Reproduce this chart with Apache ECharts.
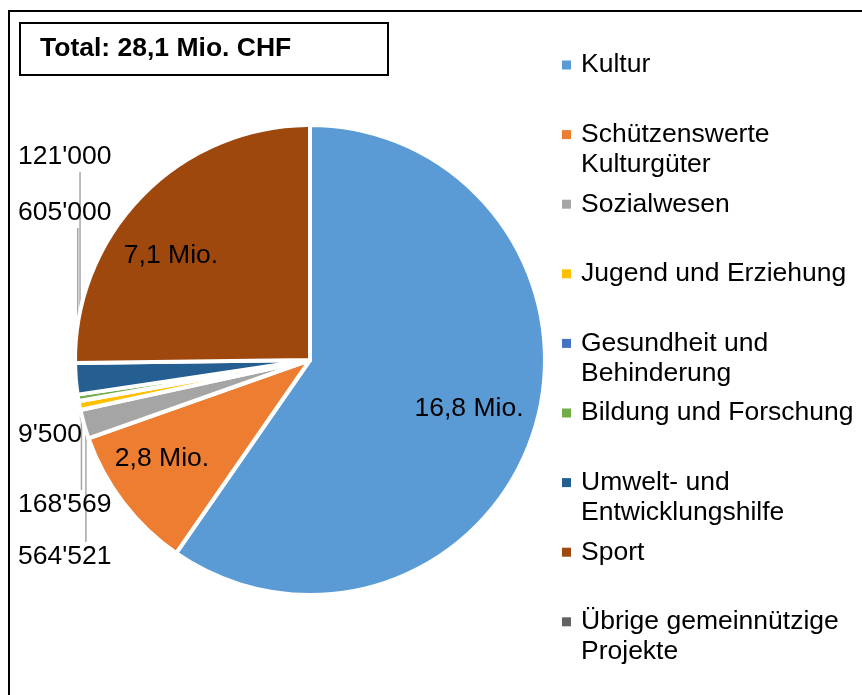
<!DOCTYPE html>
<html>
<head>
<meta charset="utf-8">
<title>Total: 28,1 Mio. CHF</title>
<script src="https://cdn.jsdelivr.net/npm/echarts@6/dist/echarts.min.js"></script>
<style>
  html, body { margin: 0; padding: 0; background: #fff; }
  #chart { width: 862px; height: 695px; }
</style>
</head>
<body>
<div id="chart"></div>
<script>
// Beiträge nach Bereich (CHF)
const categories = [
  'Kultur',
  'Schützenswerte Kulturgüter',
  'Sozialwesen',
  'Jugend und Erziehung',
  'Gesundheit und Behinderung',
  'Bildung und Forschung',
  'Umwelt- und Entwicklungshilfe',
  'Sport',
  'Übrige gemeinnützige Projekte'
]
const values = [16800000, 2800000, 564521, 168569, 9500, 121000, 605000, 7100000, 0]
const legendLines = [
  ['Kultur'],
  ['Schützenswerte', 'Kulturgüter'],
  ['Sozialwesen'],
  ['Jugend und Erziehung'],
  ['Gesundheit und', 'Behinderung'],
  ['Bildung und Forschung'],
  ['Umwelt- und', 'Entwicklungshilfe'],
  ['Sport'],
  ['Übrige gemeinnützige', 'Projekte']
]
const colors = ['#5B9BD5', '#ED7D31', '#A5A5A5', '#FFC000', '#4472C4', '#70AD47', '#255E91', '#9E480E', '#636363']
const totalLabel = 'Total: 28,1 Mio. CHF'

const FONT = '"Liberation Sans", Arial, sans-serif'
const FS = 26.5
const CX = 310, CY = 360, R = 235

// label placement (layout only): [x, y, align, inside]
const labelPos = [
  [469, 409, 'center', true],
  [162, 459, 'center', true],
  [18, 557, 'left', false],
  [18, 505, 'left', false],
  [18, 435, 'left', false],
  [18, 157, 'left', false],
  [18, 213, 'left', false],
  [171, 256, 'center', true],
  null
]

const formatValue = (v) => {
  if (v >= 1000000) return (v / 1000000).toFixed(1).replace('.', ',') + ' Mio.'
  return String(v).replace(/\B(?=(\d{3})+(?!\d))/g, "'")
}

const total = values.reduce((a, b) => a + b, 0)
const arcPoint = (idx) => {
  let before = 0
  for (let i = 0; i < idx; i++) before += values[i]
  const a = (90 - (before + values[idx] / 2) / total * 360) * Math.PI / 180
  return [CX + (R - 2) * Math.cos(a), CY - (R - 2) * Math.sin(a)]
}

const legendTop = (i) => {
  const c = 65 + 69.6 * i
  return legendLines[i].length > 1 ? c - 45 : c - 15
}

const legends = categories.map((name, i) => ({
  data: [name],
  left: 562,
  top: legendTop(i),
  orient: 'vertical',
  padding: 0,
  itemWidth: 9,
  itemHeight: 9,
  icon: 'rect',
  itemStyle: { borderWidth: 0 },
  selectedMode: false,
  formatter: () => {
    const lines = legendLines[i].map(l => '{t|' + l + '}')
    if (lines.length > 1) lines.unshift('{t| }')
    return lines.join('\n')
  },
  textStyle: {
    fontFamily: FONT,
    fontSize: FS,
    lineHeight: 30,
    color: '#000',
    rich: {
      t: { fontFamily: FONT, fontSize: FS, lineHeight: 30, color: '#000', padding: [0, 0, 0, 5] }
    }
  }
}))

const chart = echarts.init(document.getElementById('chart'))
chart.setOption({
  animation: false,
  backgroundColor: '#fff',
  graphic: [{
    type: 'rect',
    silent: true,
    shape: { x: 9, y: 11, width: 900, height: 800 },
    style: { fill: 'none', stroke: '#000', lineWidth: 2 }
  }],
  title: {
    text: totalLabel,
    left: 20,
    top: 23,
    padding: [11, 20, 11, 20],
    borderColor: '#000',
    borderWidth: 2,
    textStyle: {
      fontFamily: FONT,
      fontSize: FS,
      fontWeight: 'bold',
      color: '#000',
      lineHeight: 30,
      width: 328
    }
  },
  legend: legends,
  series: [{
    type: 'pie',
    center: [CX, CY],
    radius: R,
    startAngle: 90,
    clockwise: true,
    avoidLabelOverlap: false,
    itemStyle: { borderColor: '#fff', borderWidth: 4 },
    emphasis: { disabled: true },
    label: {
      show: true,
      position: 'outside',
      formatter: p => formatValue(p.value),
      fontFamily: FONT,
      fontSize: FS,
      color: '#000',
      width: 200,
      overflow: 'none'
    },
    labelLine: {
      show: true,
      length: 5,
      length2: 0,
      lineStyle: { color: '#A6A6A6', width: 1.5 }
    },
    labelLayout: (params) => {
      const pos = labelPos[params.dataIndex]
      if (!pos) return
      const out = { x: pos[0], y: pos[1], align: pos[2], verticalAlign: 'middle' }
      if (!pos[3]) {
        const p0 = arcPoint(params.dataIndex)
        const edgeY = pos[1] < p0[1] ? pos[1] + 15 : pos[1] - 15
        out.labelLinePoints = [p0, [p0[0], edgeY], [p0[0], edgeY]]
      }
      return out
    },
    data: categories.map((name, i) => {
      const pos = labelPos[i]
      const item = { name, value: values[i], itemStyle: { color: colors[i] } }
      if (!pos) {
        item.label = { show: false }
        item.labelLine = { show: false }
      } else if (pos[3]) {
        item.label = { position: 'inside' }
        item.labelLine = { show: false }
      }
      return item
    })
  }]
})
</script>
</body>
</html>
